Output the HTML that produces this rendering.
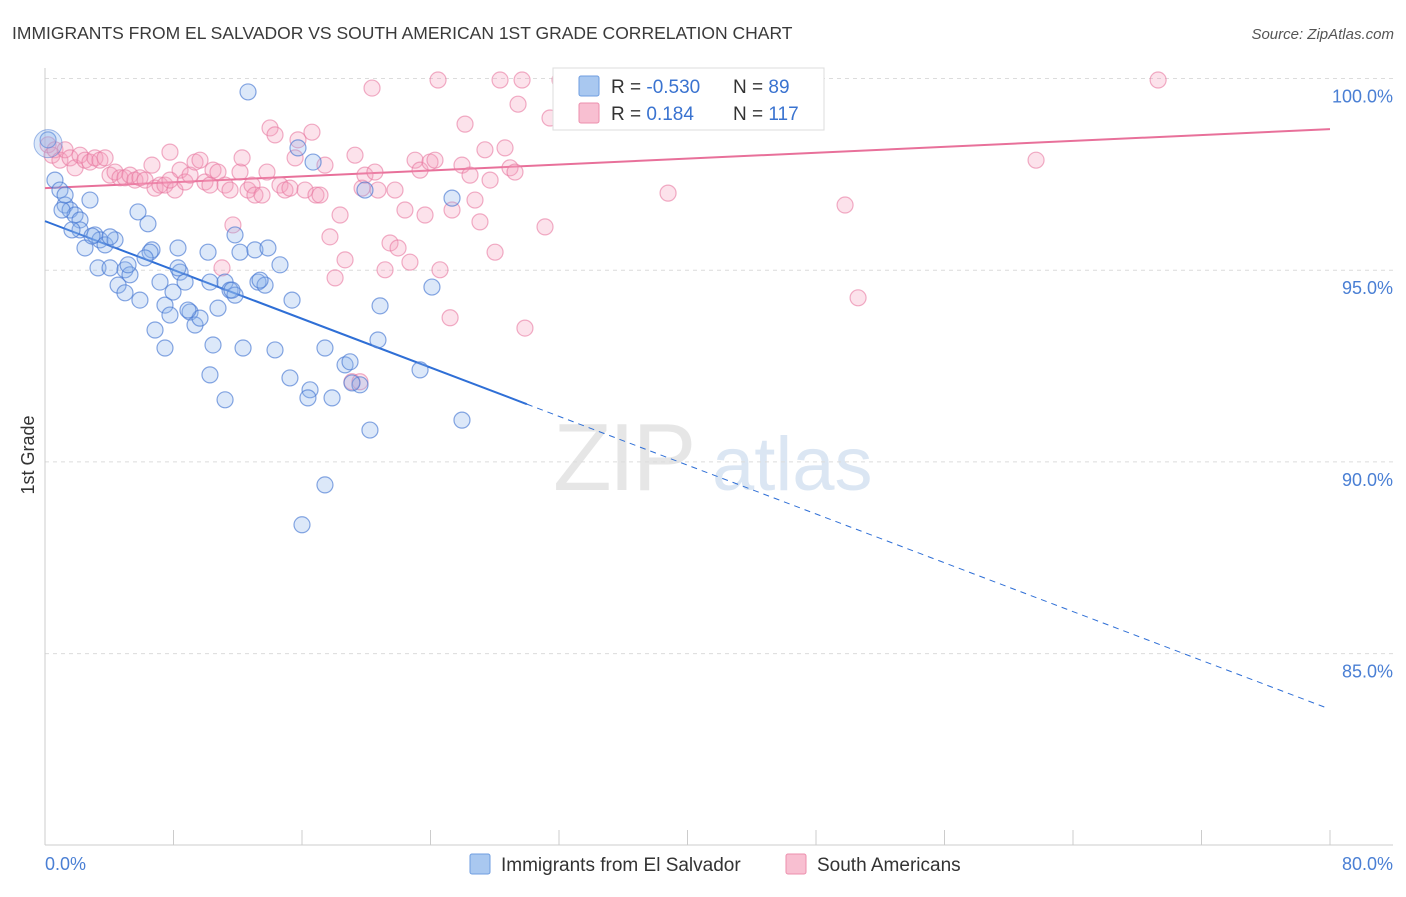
<!DOCTYPE html>
<html><head><meta charset="utf-8"><style>
body{margin:0;background:#fff;font-family:"Liberation Sans",sans-serif;}
svg text{font-family:"Liberation Sans",sans-serif;}
</style></head><body>
<svg id="chart" width="1406" height="892" viewBox="0 0 1406 892" xmlns="http://www.w3.org/2000/svg">
<text x="12" y="39" font-size="17.5" fill="#3a3a3a">IMMIGRANTS FROM EL SALVADOR VS SOUTH AMERICAN 1ST GRADE CORRELATION CHART</text>
<text x="1394" y="39" font-size="15" fill="#555" text-anchor="end" font-style="italic">Source: ZipAtlas.com</text>
<g opacity="0.5">
<text x="553" y="490" font-size="96" fill="#cfcfcf" font-family="Liberation Serif" letter-spacing="-3">ZIP</text>
<text x="712" y="490" font-size="76" fill="#b8cfe8">atlas</text>
</g>
<g id="grid"></g>
<g id="axes"></g>
<g id="lines"></g>
<g id="points"></g>
<text transform="translate(34,455) rotate(-90)" font-size="18" fill="#333" text-anchor="middle">1st Grade</text>
<g>
<rect x="553" y="68" width="271" height="62" fill="#fff" stroke="#ddd"/>
<rect x="579" y="76" width="20" height="20" fill="#a9c8f0" stroke="#6f9ee0" rx="2"/>
<rect x="579" y="103" width="20" height="20" fill="#f8bfd1" stroke="#ec8fad" rx="2"/>
<text x="611" y="93" font-size="19" fill="#333">R = <tspan fill="#3a73d0">-0.530</tspan></text>
<text x="733" y="93" font-size="19" fill="#333">N = <tspan fill="#3a73d0"> 89</tspan></text>
<text x="611" y="120" font-size="19" fill="#333">R = <tspan fill="#3a73d0">  0.184</tspan></text>
<text x="733" y="120" font-size="19" fill="#333">N = <tspan fill="#3a73d0">117</tspan></text>
</g>
<g>
<rect x="470" y="854" width="20" height="20" fill="#a9c8f0" stroke="#6f9ee0" rx="2"/>
<text x="501" y="871" font-size="19" fill="#333">Immigrants from El Salvador</text>
<rect x="786" y="854" width="20" height="20" fill="#f8bfd1" stroke="#ec8fad" rx="2"/>
<text x="817" y="871" font-size="19" fill="#333">South Americans</text>
</g>
</svg>
<script>
const blueX=[0.19,0.62,0.93,1.25,1.56,1.87,2.18,2.80,3.11,3.42,3.74,2.49,3.30,4.05,4.36,4.98,5.29,4.55,4.98,5.91,6.41,6.66,7.16,7.47,7.97,8.28,8.41,8.72,9.03,9.34,9.65,10.15,10.27,10.46,10.77,11.21,11.52,11.83,12.14,12.33,12.64,13.07,13.26,13.70,13.88,14.32,14.63,15.25,15.38,15.75,16.50,16.69,17.43,17.87,18.68,18.99,19.61,20.23,20.73,20.86,23.35,24.09,25.34,25.96,17.43,16.00,6.85,7.47,7.78,8.90,5.79,6.54,10.27,11.21,13.39,11.83,16.37,19.11,19.92,2.18,1.06,1.68,2.93,4.05,5.17,8.28,11.64,6.23,1.25];
const blueY=[98.40,97.35,97.09,96.70,96.57,96.44,96.31,96.83,95.92,95.79,95.66,95.58,95.06,95.06,95.79,95.01,94.88,94.61,94.41,94.22,96.21,95.53,94.69,94.09,94.43,95.58,94.95,94.69,93.91,93.57,93.75,95.47,94.69,93.05,94.01,94.69,94.48,95.92,95.47,92.97,99.65,95.53,94.69,94.61,95.58,92.92,95.14,92.19,94.22,98.19,91.88,97.82,92.97,91.67,92.53,92.61,92.01,90.83,93.18,94.07,92.40,94.56,96.88,91.09,89.40,88.36,93.44,92.97,93.83,93.96,96.52,95.47,92.27,91.62,94.74,94.35,91.67,92.06,97.09,96.05,96.57,96.05,95.89,95.87,95.14,95.06,94.48,95.32,96.96];
const pinkX=[0.19,0.44,0.62,0.93,1.25,1.56,1.87,2.18,2.49,2.80,3.11,3.42,3.74,4.05,4.36,4.67,4.98,5.29,5.60,5.91,6.23,6.66,6.85,7.16,7.47,7.78,8.09,8.41,8.72,9.03,9.34,9.65,9.96,10.27,10.46,10.77,11.02,11.21,11.52,11.70,12.14,12.27,12.64,12.89,13.07,13.51,13.82,14.01,14.32,14.63,14.94,15.25,15.57,15.75,16.19,16.62,16.87,17.12,17.43,17.74,18.06,18.37,18.68,19.11,19.30,19.74,19.92,20.36,20.54,20.73,21.17,21.48,21.79,21.98,22.41,22.72,23.04,23.35,23.66,23.97,24.28,24.59,24.47,25.22,25.34,25.96,26.15,26.46,26.77,27.08,27.39,27.71,28.02,28.33,28.64,28.95,29.26,29.45,29.70,29.88,31.13,31.44,32.06,32.56,33.00,38.79,49.81,50.62,61.70,69.30,35.18,19.61,7.78];
const pinkY=[98.27,98.00,98.14,97.87,98.14,97.93,97.67,98.00,97.87,97.82,97.93,97.87,97.93,97.48,97.56,97.41,97.41,97.48,97.35,97.41,97.35,97.74,97.14,97.22,97.22,98.08,97.09,97.61,97.30,97.48,97.82,97.87,97.30,97.22,97.61,97.56,95.06,97.22,97.09,96.18,97.56,97.93,97.09,97.22,96.96,96.96,97.56,98.71,98.53,97.22,97.09,97.14,97.93,98.40,97.09,98.60,96.96,96.96,97.74,95.87,94.80,96.44,95.27,92.09,98.00,97.14,97.48,99.75,97.56,97.09,95.01,95.71,97.09,95.58,96.57,95.21,97.87,97.61,96.44,97.82,97.87,95.01,99.96,93.76,96.57,97.74,98.81,97.48,96.83,96.26,98.14,97.35,95.47,99.96,98.19,97.67,97.56,99.33,99.96,93.49,96.13,98.97,99.96,99.96,99.44,97.01,96.70,94.28,97.87,99.96,99.18,92.09,97.35];
const yTicks=[100,95,90,85];
const yTickLabels=["100.0%","95.0%","90.0%","85.0%"];
const blueLine=[96.28,83.55];
const blueSolidEnd=30.0;
const pinkLine=[97.14,98.68];
const xMin=0,xMax=80;
const X=v=>45+(v-xMin)/(xMax-xMin)*1285;
const Y=v=>78.5+(100-v)*38.34;
const NS="http://www.w3.org/2000/svg";
function mk(t,a,p){const e=document.createElementNS(NS,t);for(const k in a)e.setAttribute(k,a[k]);p.appendChild(e);return e;}
const grid=document.getElementById('grid'),axes=document.getElementById('axes');
yTicks.forEach((t,i)=>{
 const l=mk('line',{x1:45,x2:1393,y1:Y(t),y2:Y(t),stroke:'#dcdcdc','stroke-dasharray':'4,4'},grid);
 
 
 const tx=mk('text',{x:1393,y:Y(t)+24,'font-size':18,fill:'#4a7fd4','text-anchor':'end'},axes);
 tx.textContent=yTickLabels[i];
 
 
});
const ax=mk('line',{x1:45,x2:45,y1:68,y2:845,stroke:'#ccc'},axes);


const bx=mk('line',{x1:45,x2:1393,y1:845,y2:845,stroke:'#ccc'},axes);


for(let v=0;v<=80;v+=8){const t=mk('line',{x1:X(v),x2:X(v),y1:830,y2:845,stroke:'#ccc'},axes);
 
 }
const x0=mk('text',{x:45,y:870,'font-size':18,fill:'#4a7fd4'},axes);x0.textContent='0.0%';


const x1=mk('text',{x:1393,y:870,'font-size':18,fill:'#4a7fd4','text-anchor':'end'},axes);x1.textContent='80.0%';


const pts=document.getElementById('points');
pinkX.forEach((x,i)=>{const c=mk('circle',{cx:X(x),cy:Y(pinkY[i]),r:8,fill:'rgba(244,160,188,0.3)',stroke:'rgba(232,120,160,0.6)','stroke-width':1.2},pts);
 
 });
blueX.forEach((x,i)=>{const c=mk('circle',{cx:X(x),cy:Y(blueY[i]),r:8,fill:'rgba(140,180,235,0.3)',stroke:'rgba(70,120,210,0.65)','stroke-width':1.2},pts);
 
 });
const big=mk('circle',{cx:X(0.19),cy:Y(98.3),r:14,fill:'rgba(140,180,235,0.3)',stroke:'rgba(70,120,210,0.5)'},pts);


const lines=document.getElementById('lines');
const by=v=>blueLine[0]+(blueLine[1]-blueLine[0])*(v/80);
const bl=mk('line',{x1:X(0),y1:Y(by(0)),x2:X(blueSolidEnd),y2:Y(by(blueSolidEnd)),stroke:'#2f6fd6','stroke-width':2},lines);


const bd=mk('line',{x1:X(blueSolidEnd),y1:Y(by(blueSolidEnd)),x2:X(79.8),y2:Y(by(79.8)),stroke:'#2f6fd6','stroke-width':1,'stroke-dasharray':'6,5'},lines);


const pl=mk('line',{x1:X(0),y1:Y(pinkLine[0]),x2:X(80),y2:Y(pinkLine[1]),stroke:'#e8709a','stroke-width':2},lines);


</script>
</body></html>
